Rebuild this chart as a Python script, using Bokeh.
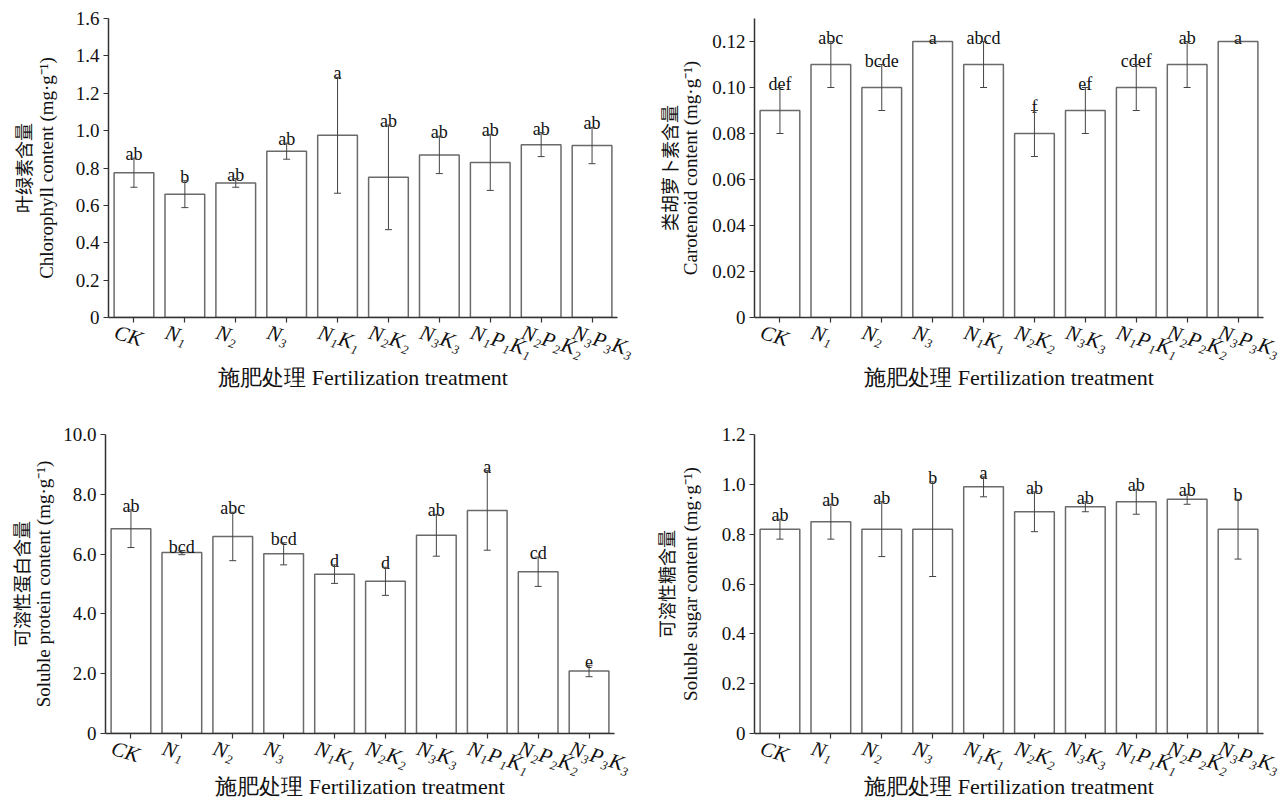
from bokeh.plotting import figure
from bokeh.models import (Range1d, FixedTicker, PrintfTickFormatter,
                          Whisker, TeeHead, ColumnDataSource, Title, LinearAxis)
from bokeh.layouts import column, row
from bokeh.embed import file_html
from bokeh.resources import INLINE
from bokeh.core.properties import value

# ---------------- data ----------------
cats = ["CK", "N1", "N2", "N3", "N1K1", "N2K2", "N3K3", "N1P1K1", "N2P2K2", "N3P3K3"]
tick_labels = ["CK", "N₁", "N₂", "N₃", "N₁K₁", "N₂K₂", "N₃K₃", "N₁P₁K₁", "N₂P₂K₂", "N₃P₃K₃"]

chl_mean = [0.775, 0.66, 0.72, 0.89, 0.975, 0.75, 0.87, 0.83, 0.925, 0.92]
chl_err = [0.078, 0.072, 0.023, 0.043, 0.31, 0.28, 0.10, 0.15, 0.064, 0.097]
chl_letters = ["ab", "b", "ab", "ab", "a", "ab", "ab", "ab", "ab", "ab"]
chl_ticks = [0, 0.2, 0.4, 0.6, 0.8, 1.0, 1.2, 1.4, 1.6]

car_mean = [0.09, 0.11, 0.10, 0.12, 0.11, 0.08, 0.09, 0.10, 0.11, 0.12]
car_err = [0.01, 0.01, 0.01, 0.0, 0.01, 0.01, 0.01, 0.01, 0.01, 0.0]
car_letters = ["def", "abc", "bcde", "a", "abcd", "f", "ef", "cdef", "ab", "a"]
car_ticks = [0, 0.02, 0.04, 0.06, 0.08, 0.10, 0.12]

pro_mean = [6.85, 6.05, 6.59, 6.01, 5.33, 5.09, 6.63, 7.46, 5.41, 2.09]
pro_err = [0.63, 0.07, 0.81, 0.37, 0.31, 0.47, 0.70, 1.33, 0.49, 0.19]
pro_letters = ["ab", "bcd", "abc", "bcd", "d", "d", "ab", "a", "cd", "e"]
pro_ticks = [0, 2, 4, 6, 8, 10]

sug_mean = [0.82, 0.85, 0.82, 0.82, 0.99, 0.89, 0.91, 0.93, 0.94, 0.82]
sug_err = [0.04, 0.07, 0.11, 0.19, 0.04, 0.08, 0.02, 0.05, 0.02, 0.12]
sug_letters = ["ab", "ab", "ab", "b", "a", "ab", "ab", "ab", "ab", "b"]
sug_ticks = [0, 0.2, 0.4, 0.6, 0.8, 1.0, 1.2]

x_title = "施肥处理 Fertilization treatment"

SERIF = "Liberation Serif"
AXIS_COLOR = "#333333"
BAR_LINE = "#6a6a6a"
TXT = "#111111"

xpos = list(range(len(cats)))          # category slots used by the linear x scale


def make_panel(mean, err, letters, ymax, ticks, fmt, en_label, cn_label,
               bl, br, bt, bb, xstand, ystand, cnstand):
    p = figure(x_range=Range1d(-0.5, len(cats) - 0.5), y_range=Range1d(0, ymax),
               frame_width=509, frame_height=299,
               min_border_left=bl, min_border_right=br,
               min_border_top=bt, min_border_bottom=bb,
               output_backend="svg", toolbar_location=None,
               background_fill_color="white", border_fill_color="white")
    p.outline_line_color = None
    p.grid.visible = False

    upper = [m + e for m, e in zip(mean, err)]
    lower = [m - e for m, e in zip(mean, err)]
    src = ColumnDataSource(dict(x=xpos, cat=cats, top=mean, upper=upper,
                                lower=lower, lab=letters))

    p.vbar(x="x", top="top", width=0.78, source=src, fill_color="white",
           line_color=BAR_LINE, line_width=1.5)

    w = Whisker(base="x", upper="upper", lower="lower", source=src,
                line_color="#444444", line_width=1, level="overlay",
                upper_head=TeeHead(size=7, line_color="#444444", line_width=1),
                lower_head=TeeHead(size=7, line_color="#444444", line_width=1))
    p.add_layout(w)

    p.text(x="x", y="upper", text="lab", source=src, text_align="center",
           text_baseline="alphabetic", y_offset=-4,
           text_font=value(SERIF), text_font_size="18px", text_color=TXT)

    # y axis
    ya = p.yaxis[0]
    ya.ticker = FixedTicker(ticks=ticks)
    ya.formatter = PrintfTickFormatter(format=fmt)
    ya.major_label_overrides = {0: "0"}
    ya.minor_tick_line_color = None
    ya.major_tick_in = 0
    ya.major_tick_out = 5
    ya.major_label_standoff = 4
    ya.axis_line_color = AXIS_COLOR
    ya.axis_line_width = 1.5
    ya.major_tick_line_color = AXIS_COLOR
    ya.major_tick_line_width = 1.2
    ya.major_label_text_font = SERIF
    ya.major_label_text_font_size = "19px"
    ya.major_label_text_color = TXT
    ya.axis_label = en_label
    ya.axis_label_text_font = SERIF
    ya.axis_label_text_font_size = "19px"
    ya.axis_label_text_font_style = "normal"
    ya.axis_label_text_color = TXT
    ya.axis_label_standoff = ystand
    p.add_layout(Title(text=cn_label, align="center", text_font="Noto Sans CJK SC",
                       text_font_size="18px", text_font_style="normal",
                       text_color=TXT, standoff=cnstand), "left")

    # primary x axis: line + ticks only
    xa = p.xaxis[0]
    xa.ticker = FixedTicker(ticks=xpos)
    xa.major_label_overrides = {i: "" for i in xpos}
    xa.major_label_text_font_size = "1px"
    xa.major_label_standoff = 0
    xa.major_tick_in = 0
    xa.major_tick_out = 5
    xa.minor_tick_line_color = None
    xa.axis_line_color = AXIS_COLOR
    xa.axis_line_width = 1.5
    xa.major_tick_line_color = AXIS_COLOR
    xa.major_tick_line_width = 1.2

    # label axis: tilted treatment names + axis title
    p.extra_x_ranges = {"lab": Range1d(-0.5 + 0.37, len(cats) - 0.5 + 0.37)}
    la = LinearAxis(x_range_name="lab", ticker=FixedTicker(ticks=xpos),
                    major_label_overrides={i: t for i, t in zip(xpos, tick_labels)},
                    major_label_orientation=-0.3,
                    axis_line_color=None, major_tick_line_color=None,
                    minor_tick_line_color=None, major_tick_out=0, major_tick_in=0,
                    major_label_standoff=9,
                    major_label_text_font=SERIF, major_label_text_font_size="21px",
                    major_label_text_font_style="italic", major_label_text_color=TXT,
                    axis_label=x_title, axis_label_text_font=SERIF,
                    axis_label_text_font_size="22px", axis_label_text_font_style="normal",
                    axis_label_text_color=TXT, axis_label_standoff=xstand)
    p.add_layout(la, "below")
    return p


p1 = make_panel(chl_mean, chl_err, chl_letters, 1.6, chl_ticks, "%.1f",
                "Chlorophyll content (mg·g⁻¹)", "叶绿素含量",
                108, 23, 18, 100, -11, 16, -7)
p2 = make_panel(car_mean, car_err, car_letters, 0.13, car_ticks, "%.2f",
                "Carotenoid content (mg·g⁻¹)", "类胡萝卜素含量",
                114, 20, 18, 100, -11, 8, -8)
p3 = make_panel(pro_mean, pro_err, pro_letters, 10.0, pro_ticks, "%.1f",
                "Soluble protein content (mg·g⁻¹)", "可溶性蛋白含量",
                105, 26, 17, 75, -18, 6, -7)
p4 = make_panel(sug_mean, sug_err, sug_letters, 1.2, sug_ticks, "%.1f",
                "Soluble sugar content (mg·g⁻¹)", "可溶性糖含量",
                114, 20, 17, 75, -18, 18, -5)

layout = column(row(p1, p2), row(p3, p4))
open("out.html", "w").write(file_html(layout, INLINE))
